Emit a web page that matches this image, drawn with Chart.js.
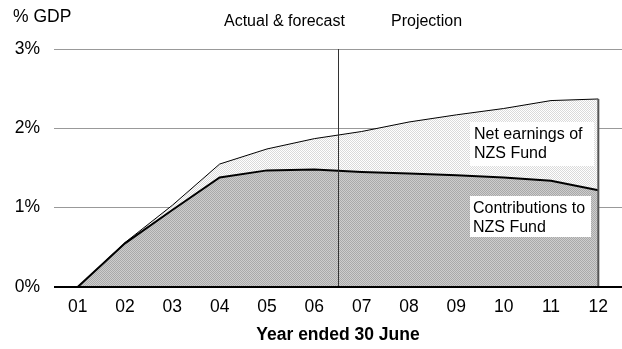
<!DOCTYPE html>
<html>
<head>
<meta charset="utf-8">
<script src="https://cdn.jsdelivr.net/npm/chart.js@4/dist/chart.umd.min.js"></script>
<style>
  html, body { margin: 0; padding: 0; background: #fff; }
  #wrap { width: 622px; height: 349px; }
</style>
</head>
<body>
<div id="wrap"><canvas id="nzsChart" width="622" height="349"></canvas></div>
<script>
// data (% of GDP)
const years = ['01', '02', '03', '04', '05', '06', '07', '08', '09', '10', '11', '12'];
const contributions = [0, 0.55, 0.97, 1.38, 1.47, 1.48, 1.45, 1.43, 1.41, 1.38, 1.34, 1.22];
const netEarnings = [0, 0.01, 0.06, 0.17, 0.27, 0.39, 0.51, 0.65, 0.76, 0.87, 1.01, 1.15];
const yTicks = [0, 1, 2, 3];
const lastActual = '06';
const font = 'Liberation Sans, Arial, sans-serif';

function makePattern(c1, c2) {
    const p = document.createElement('canvas');
    p.width = 2; p.height = 2;
    const pc = p.getContext('2d');
    pc.fillStyle = c1; pc.fillRect(0, 0, 2, 2);
    pc.fillStyle = c2; pc.fillRect(0, 0, 1, 1); pc.fillRect(1, 1, 1, 1);
    return pc.createPattern(p, 'repeat');
}

const ctx = document.getElementById('nzsChart').getContext('2d');

const extras = {
    id: 'extras',
    afterDatasetsDraw(chart) {
        const c = chart.ctx;
        const area = chart.chartArea;
        const x = chart.scales.x;
        const y = chart.scales.y;
        c.save();

        // right edge of the areas
        const last = years.length - 1;
        const xr = x.getPixelForValue(last);
        c.strokeStyle = '#555';
        c.lineWidth = 2;
        c.beginPath();
        c.moveTo(xr, y.getPixelForValue(0));
        c.lineTo(xr, y.getPixelForValue(contributions[last] + netEarnings[last]));
        c.stroke();

        // divider between actual and projection
        const i = years.indexOf(lastActual);
        const xd = Math.round((x.getPixelForValue(i) + x.getPixelForValue(i + 1)) / 2) + 0.5;
        c.strokeStyle = '#333';
        c.lineWidth = 1;
        c.beginPath();
        c.moveTo(xd, area.top);
        c.lineTo(xd, area.bottom);
        c.stroke();

        // zero line
        const y0 = y.getPixelForValue(0);
        c.strokeStyle = '#000';
        c.lineWidth = 2;
        c.beginPath();
        c.moveTo(area.left, y0);
        c.lineTo(area.right, y0);
        c.stroke();

        // label boxes
        c.fillStyle = '#fff';
        c.fillRect(470, 122, 124, 44);
        c.fillRect(470, 196, 121, 41);

        c.fillStyle = '#000';
        c.font = '16px ' + font;
        c.textBaseline = 'alphabetic';
        c.textAlign = 'left';
        c.fillText('Net earnings of', 474, 139);
        c.fillText('NZS Fund', 474, 158);
        c.fillText('Contributions to', 473, 213);
        c.fillText('NZS Fund', 473, 232);
        c.fillText('Actual & forecast', 224, 26);
        c.fillText('Projection', 391, 26);

        c.font = '17.5px ' + font;
        c.fillText('% GDP', 13, 22);
        c.restore();
    }
};

new Chart(ctx, {
    type: 'line',
    data: {
        labels: years,
        datasets: [{
            label: 'Contributions to NZS Fund',
            data: contributions,
            backgroundColor: makePattern('#cdcdcd', '#a9a9a9'),
            borderColor: '#000',
            borderWidth: 2,
            pointRadius: 0,
            fill: 'origin'
        }, {
            label: 'Net earnings of NZS Fund',
            data: netEarnings,
            backgroundColor: makePattern('#ffffff', '#dadada'),
            borderColor: '#000',
            borderWidth: 1,
            pointRadius: 0,
            fill: '-1'
        }]
    },
    options: {
        responsive: false,
        animation: false,
        layout: { padding: { top: 49, left: 0, right: 0, bottom: 0 } },
        plugins: {
            legend: { display: false },
            tooltip: { enabled: false }
        },
        scales: {
            x: {
                offset: true,
                grid: { display: false, drawTicks: false },
                border: { display: false },
                ticks: {
                    color: '#000',
                    font: { family: font, size: 17.5 },
                    padding: 10,
                    maxRotation: 0
                },
                title: {
                    display: true,
                    text: 'Year ended 30 June',
                    color: '#000',
                    font: { family: font, size: 17.5, weight: 'bold' },
                    padding: { top: 3, bottom: 3 }
                },
                afterFit(scale) { scale.height = 62; }
            },
            y: {
                stacked: true,
                min: yTicks[0],
                max: yTicks[yTicks.length - 1],
                afterBuildTicks(scale) { scale.ticks = yTicks.map(v => ({ value: v })); },
                grid: {
                    drawTicks: false,
                    color: c => c.tick.value === 0 ? '#000' : '#999',
                    lineWidth: 1
                },
                border: { display: false },
                ticks: {
                    color: '#000',
                    font: { family: font, size: 17.5 },
                    padding: 14,
                    callback: v => v + '%'
                },
                afterFit(scale) { scale.width = 54; }
            }
        }
    },
    plugins: [extras]
});
</script>
</body>
</html>
